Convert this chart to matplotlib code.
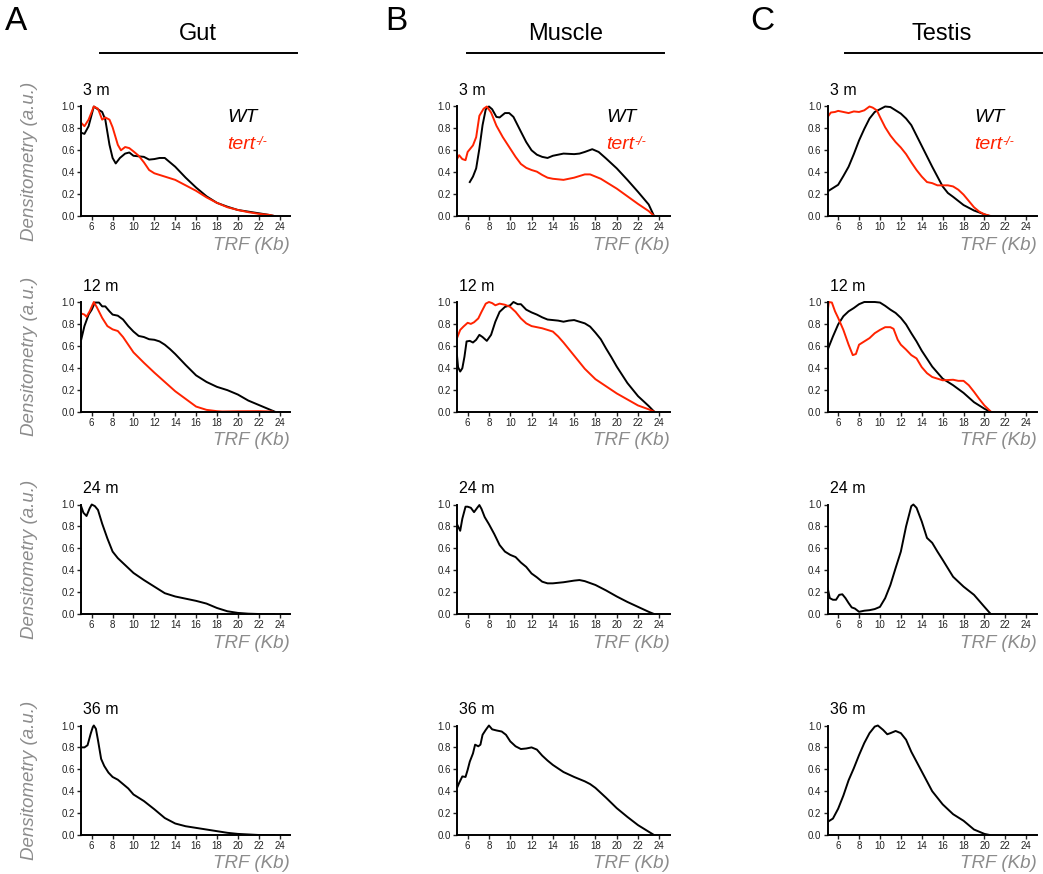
import numpy as np
import matplotlib.pyplot as plt
from matplotlib.lines import Line2D

plt.rcParams['font.family'] = ['Liberation Sans', 'DejaVu Sans']

RED = '#ff2200'
GREY = '#8c8c8c'

tissues = ['Gut', 'Muscle', 'Testis']
panel_letters = ['A', 'B', 'C']
ages = ['3 m', '12 m', '24 m', '36 m']
xticks = [6, 8, 10, 12, 14, 16, 18, 20, 22, 24]
yticks = [0.0, 0.2, 0.4, 0.6, 0.8, 1.0]

# ---- Gut ----
gut_3m_wt_x = [5, 5.3, 5.7, 6.2, 6.5, 7.0, 7.3, 7.7, 8.0, 8.3, 8.7, 9.2, 9.6, 10, 11, 11.5, 12, 12.5, 13, 13.5, 14, 15, 16, 17, 18, 19, 20, 21, 22, 23, 23.5]
gut_3m_wt_y = [0.76, 0.75, 0.82, 1.0, 0.98, 0.95, 0.88, 0.65, 0.53, 0.48, 0.53, 0.57, 0.58, 0.55, 0.54, 0.515, 0.52, 0.53, 0.53, 0.49, 0.45, 0.35, 0.26, 0.18, 0.12, 0.085, 0.055, 0.04, 0.025, 0.01, 0.0]
gut_3m_ko_x = [5, 5.3, 5.7, 6.2, 6.6, 7.0, 7.3, 7.7, 8.0, 8.5, 8.8, 9.2, 9.6, 10, 10.5, 11, 11.5, 12, 13, 14, 15, 16, 17, 18, 19, 20, 21, 22, 23, 23.5]
gut_3m_ko_y = [0.85, 0.82, 0.88, 1.0, 0.98, 0.88, 0.9, 0.88, 0.81, 0.65, 0.6, 0.63, 0.62, 0.59, 0.55, 0.49, 0.42, 0.39, 0.36, 0.33, 0.28, 0.23, 0.17, 0.12, 0.08, 0.055, 0.035, 0.02, 0.01, 0.0]

gut_12m_wt_x = [5, 5.3, 5.7, 6.0, 6.3, 6.7, 7.0, 7.3, 7.7, 8.0, 8.5, 9.0, 9.5, 10, 10.5, 11, 11.5, 12, 12.5, 13, 13.5, 14, 15, 16, 17, 18, 19, 20, 21, 22, 23, 23.5]
gut_12m_wt_y = [0.66, 0.78, 0.885, 0.93, 0.995, 0.995, 0.96, 0.96, 0.915, 0.885, 0.875, 0.84, 0.78, 0.73, 0.69, 0.68, 0.66, 0.655, 0.64, 0.61, 0.57, 0.525, 0.425, 0.33, 0.27, 0.225, 0.195, 0.155, 0.10, 0.06, 0.02, 0.0]
gut_12m_ko_x = [5, 5.3, 5.5, 5.8, 6.2, 6.5, 7.0, 7.5, 8.0, 8.5, 9.0, 9.5, 10, 11, 12, 13, 14, 15, 16, 17, 18, 18.5, 20, 22, 23.3]
gut_12m_ko_y = [0.895, 0.885, 0.865, 0.915, 1.0, 0.95, 0.855, 0.78, 0.75, 0.735, 0.68, 0.61, 0.54, 0.445, 0.355, 0.27, 0.185, 0.115, 0.045, 0.015, 0.003, 0.0, 0.002, 0.003, 0.0]

gut_24m_x = [5, 5.2, 5.5, 5.8, 6.0, 6.3, 6.6, 7.0, 7.5, 8.0, 8.5, 9.0, 9.5, 10, 11, 12, 13, 14, 15, 16, 17, 18, 19, 20, 21, 22, 23.5]
gut_24m_y = [0.98, 0.925, 0.895, 0.965, 1.0, 0.985, 0.95, 0.825, 0.69, 0.57, 0.51, 0.465, 0.42, 0.375, 0.31, 0.25, 0.19, 0.16, 0.14, 0.12, 0.095, 0.055, 0.025, 0.01, 0.003, 0.0, 0.0]

gut_36m_x = [5, 5.3, 5.6, 5.9, 6.1, 6.2, 6.4, 6.6, 6.9, 7.2, 7.6, 8.0, 8.5, 9.0, 9.5, 10, 11, 12, 13, 14, 15, 16, 17, 18, 19, 20, 21, 22, 23.5]
gut_36m_y = [0.8, 0.8, 0.82, 0.925, 0.985, 1.0, 0.97, 0.865, 0.695, 0.63, 0.57, 0.53, 0.505, 0.465, 0.425, 0.37, 0.31, 0.235, 0.155, 0.105, 0.08, 0.065, 0.05, 0.035, 0.02, 0.01, 0.005, 0.0, 0.0]

# ---- Muscle ----
mus_3m_wt_x = [6.2, 6.5, 6.8, 7.1, 7.4, 7.7, 8.0, 8.3, 8.7, 9.0, 9.5, 9.9, 10.3, 11, 11.5, 12, 12.5, 13, 13.5, 14, 15, 16, 16.5, 17, 17.7, 18.3, 19, 20, 21, 22, 23, 23.5]
mus_3m_wt_y = [0.31, 0.36, 0.435, 0.615, 0.83, 0.975, 1.0, 0.975, 0.905, 0.9, 0.94, 0.94, 0.905, 0.77, 0.675, 0.6, 0.56, 0.54, 0.53, 0.55, 0.57, 0.565, 0.57, 0.585, 0.61, 0.585, 0.525, 0.435, 0.33, 0.22, 0.105, 0.0]
mus_3m_ko_x = [5, 5.2, 5.5, 5.8, 6.0, 6.5, 6.8, 7.1, 7.5, 7.8, 8.2, 8.7, 9.3, 10, 10.5, 11, 11.5, 12, 12.5, 13, 13.5, 14, 15, 16, 17, 17.5, 18, 18.5, 19, 20, 21, 22, 23, 23.5]
mus_3m_ko_y = [0.52, 0.555, 0.52, 0.51, 0.585, 0.645, 0.72, 0.915, 0.98, 1.0, 0.945, 0.825, 0.72, 0.615, 0.54, 0.475, 0.44, 0.42, 0.405, 0.375, 0.35, 0.34, 0.33, 0.35, 0.38, 0.38, 0.36, 0.34, 0.31, 0.25, 0.18, 0.11, 0.045, 0.0]

mus_12m_wt_x = [5, 5.1, 5.3, 5.5, 5.7, 5.9, 6.2, 6.5, 6.8, 7.1, 7.4, 7.8, 8.2, 8.6, 9.0, 9.5, 10, 10.3, 10.7, 11, 11.5, 12, 12.5, 13, 13.5, 14, 14.5, 15, 15.5, 16, 16.5, 17, 17.5, 18, 18.5, 19, 19.5, 20, 21, 22, 23, 23.5]
mus_12m_wt_y = [0.51, 0.405, 0.365, 0.395, 0.5, 0.64, 0.645, 0.63, 0.655, 0.7, 0.68, 0.645, 0.7, 0.82, 0.91, 0.955, 0.97, 1.0, 0.98, 0.98, 0.93, 0.905, 0.885, 0.86, 0.84, 0.835, 0.83, 0.82, 0.83, 0.835, 0.82, 0.805, 0.775, 0.72, 0.66, 0.575, 0.495, 0.41, 0.26, 0.14, 0.05, 0.0]
mus_12m_ko_x = [5, 5.3, 5.6, 6.0, 6.3, 6.6, 7.0, 7.3, 7.7, 8.0, 8.3, 8.6, 9.0, 9.5, 10, 10.5, 11, 11.5, 12, 13, 14, 14.5, 15, 16, 17, 18, 19, 20, 21, 22, 23, 23.5]
mus_12m_ko_y = [0.67, 0.745, 0.775, 0.81, 0.8, 0.815, 0.85, 0.91, 0.985, 1.0, 0.99, 0.97, 0.985, 0.975, 0.955, 0.91, 0.85, 0.805, 0.78, 0.76, 0.73, 0.685, 0.63, 0.51, 0.39, 0.295, 0.23, 0.165, 0.11, 0.055, 0.02, 0.0]

mus_24m_x = [5, 5.3, 5.5, 5.8, 6.0, 6.3, 6.6, 6.9, 7.1, 7.3, 7.6, 8.0, 8.5, 9.0, 9.5, 10, 10.5, 11, 11.5, 12, 12.5, 13, 13.5, 14, 15, 16, 16.5, 17, 18, 19, 20, 21, 22, 23, 23.5]
mus_24m_y = [0.82, 0.76, 0.87, 0.98, 0.98, 0.97, 0.93, 0.97, 0.995, 0.96, 0.885, 0.82, 0.73, 0.63, 0.57, 0.54, 0.52, 0.47, 0.43, 0.37, 0.335, 0.295, 0.28, 0.28, 0.29, 0.305, 0.31, 0.3, 0.265, 0.215, 0.16, 0.11, 0.065, 0.02, 0.0]

mus_36m_x = [5, 5.2, 5.5, 5.8, 6.0, 6.2, 6.5, 6.7, 7.0, 7.2, 7.4, 7.7, 8.0, 8.3, 8.7, 9.2, 9.6, 10, 10.5, 11, 11.5, 12, 12.5, 13, 13.5, 14, 15, 16, 17, 17.5, 18, 19, 20, 21, 22, 23, 23.5]
mus_36m_y = [0.43, 0.475, 0.535, 0.53, 0.595, 0.67, 0.745, 0.825, 0.81, 0.825, 0.915, 0.96, 1.0, 0.965, 0.955, 0.945, 0.915, 0.855, 0.81, 0.785, 0.79, 0.8, 0.78, 0.725, 0.68, 0.64, 0.575, 0.53, 0.49, 0.465, 0.43, 0.34, 0.245, 0.165, 0.09, 0.03, 0.0]

# ---- Testis ----
tes_3m_wt_x = [5, 5.5, 6, 6.5, 7, 7.5, 8, 8.5, 9, 9.5, 10, 10.5, 11, 11.5, 12, 12.5, 13, 13.5, 14, 15, 16, 16.5, 17, 18, 19, 20, 20.5]
tes_3m_wt_y = [0.225, 0.255, 0.285, 0.365, 0.45, 0.565, 0.69, 0.795, 0.89, 0.95, 0.975, 1.0, 0.995, 0.965, 0.935, 0.89, 0.83, 0.735, 0.64, 0.45, 0.27, 0.21, 0.175, 0.1, 0.05, 0.015, 0.0]
tes_3m_ko_x = [5, 5.3, 5.7, 6, 6.5, 7, 7.5, 8, 8.5, 9, 9.3, 9.7, 10, 10.5, 11, 11.5, 12, 12.5, 13, 13.5, 14, 14.5, 15, 15.5, 16, 16.5, 17, 17.5, 18, 19, 19.5, 20, 20.6]
tes_3m_ko_y = [0.905, 0.945, 0.95, 0.96, 0.95, 0.94, 0.955, 0.95, 0.965, 1.0, 0.99, 0.965, 0.905, 0.81, 0.735, 0.675, 0.625, 0.565, 0.49, 0.42, 0.36, 0.31, 0.3, 0.28, 0.28, 0.28, 0.27, 0.24, 0.195, 0.08, 0.04, 0.015, 0.0]

tes_12m_wt_x = [5, 5.5, 6, 6.5, 7, 7.5, 8, 8.5, 9, 9.5, 10, 10.5, 11, 11.5, 12, 12.5, 13, 13.5, 14, 15, 16, 17, 18, 19, 20, 20.5]
tes_12m_wt_y = [0.565, 0.685, 0.795, 0.87, 0.915, 0.945, 0.98, 1.0, 1.0, 1.0, 0.995, 0.965, 0.93, 0.9, 0.855, 0.795, 0.715, 0.64, 0.555, 0.41, 0.3, 0.24, 0.17, 0.085, 0.025, 0.0]
tes_12m_ko_x = [5, 5.1, 5.4, 5.7, 6, 6.5, 7, 7.4, 7.7, 8, 8.5, 9, 9.5, 10, 10.5, 11, 11.3, 11.7, 12, 12.5, 13, 13.5, 14, 14.5, 15, 16, 17, 17.5, 18, 18.5, 19, 19.5, 20, 20.6]
tes_12m_ko_y = [0.915, 1.0, 0.995, 0.915, 0.855, 0.745, 0.61, 0.515, 0.525, 0.61, 0.64, 0.67, 0.715, 0.745, 0.77, 0.77, 0.755, 0.655, 0.61, 0.565, 0.515, 0.485, 0.405, 0.35, 0.315, 0.285, 0.29, 0.28, 0.28, 0.24, 0.18, 0.115, 0.055, 0.0]

tes_24m_x = [5, 5.2, 5.5, 5.8, 6.1, 6.4, 6.7, 7, 7.3, 7.6, 8, 8.5, 9, 9.5, 10, 10.5, 11, 11.5, 12, 12.5, 13, 13.2, 13.5, 14, 14.5, 15, 15.5, 16, 17, 18, 19, 20, 20.6]
tes_24m_y = [0.235, 0.145, 0.13, 0.13, 0.175, 0.18, 0.145, 0.1, 0.06, 0.05, 0.02, 0.03, 0.035, 0.045, 0.065, 0.145, 0.265, 0.42, 0.57, 0.8, 0.985, 1.0, 0.97, 0.845, 0.695, 0.65, 0.57, 0.495, 0.34, 0.25, 0.175, 0.065, 0.0]

tes_36m_x = [5, 5.5, 6, 6.5, 7, 7.5, 8, 8.5, 9, 9.5, 9.8, 10.3, 10.7, 11, 11.5, 12, 12.5, 13, 14, 15, 16, 17, 18, 19, 20, 20.5]
tes_36m_y = [0.12, 0.15, 0.24, 0.36, 0.5, 0.61, 0.73, 0.84, 0.93, 0.99, 1.0, 0.96, 0.92, 0.93, 0.95, 0.93, 0.87, 0.76, 0.58, 0.4, 0.28, 0.19, 0.13, 0.05, 0.01, 0.0]

# curves per [row][col]: list of (x, y, colour)
curves = [
    [[(gut_3m_wt_x, gut_3m_wt_y, 'k'), (gut_3m_ko_x, gut_3m_ko_y, RED)],
     [(mus_3m_wt_x, mus_3m_wt_y, 'k'), (mus_3m_ko_x, mus_3m_ko_y, RED)],
     [(tes_3m_wt_x, tes_3m_wt_y, 'k'), (tes_3m_ko_x, tes_3m_ko_y, RED)]],
    [[(gut_12m_wt_x, gut_12m_wt_y, 'k'), (gut_12m_ko_x, gut_12m_ko_y, RED)],
     [(mus_12m_wt_x, mus_12m_wt_y, 'k'), (mus_12m_ko_x, mus_12m_ko_y, RED)],
     [(tes_12m_wt_x, tes_12m_wt_y, 'k'), (tes_12m_ko_x, tes_12m_ko_y, RED)]],
    [[(gut_24m_x, gut_24m_y, 'k')], [(mus_24m_x, mus_24m_y, 'k')], [(tes_24m_x, tes_24m_y, 'k')]],
    [[(gut_36m_x, gut_36m_y, 'k')], [(mus_36m_x, mus_36m_y, 'k')], [(tes_36m_x, tes_36m_y, 'k')]],
]

W, H = 1043, 874
fig = plt.figure(figsize=(W / 100, H / 100), dpi=100)

col_left = [81.3, 457, 827.7]     # px where x=5
col_width = [208.7, 213, 209]     # px for 5..25
row_zero = [216, 411.5, 614, 835] # px where y=0
unit_h = 109.5                    # px for y 0..1
ytop = 1.02

for r in range(4):
    for c in range(3):
        hpx = unit_h * ytop
        ax = fig.add_axes([col_left[c] / W, 1 - row_zero[r] / H, col_width[c] / W, hpx / H])
        for x, y, col in curves[r][c]:
            ax.plot(x, y, color=col, lw=1.4, solid_joinstyle='round')
        ax.set_xlim(5, 25)
        ax.set_ylim(0, ytop)
        ax.set_xticks(xticks)
        ax.set_yticks(yticks)
        ax.set_yticklabels(['%.1f' % v for v in yticks])
        for s in ['top', 'right']:
            ax.spines[s].set_visible(False)
        for s in ['left', 'bottom']:
            ax.spines[s].set_linewidth(1.4)
        ax.spines['left'].set_bounds(0, 1.0)
        ax.tick_params(length=3, width=1, labelsize=7, pad=1.5, colors='#222222')
        ax.text(0.01, 1.0 + 9 / hpx, ages[r], transform=ax.transAxes, fontsize=11.5, va='baseline', ha='left')
        ax.text(1.0, -29 / hpx, 'TRF (Kb)', transform=ax.transAxes, fontsize=13.5, style='italic',
                color=GREY, ha='right', va='center')
        if r == 0:
            ax.text(0.70, 0.88, 'WT', transform=ax.transAxes, fontsize=14, style='italic', va='center')
            t = ax.text(0.70, 0.64, 'tert', transform=ax.transAxes, fontsize=14, style='italic',
                        color=RED, va='center')
            ax.annotate('-/-', xy=(1.0, 1.0), xycoords=t, fontsize=9, style='italic', color=RED,
                        ha='left', va='top')
        if c == 0:
            ycen = 1 - (row_zero[r] - unit_h / 2) / H
            fig.text(30 / W, ycen, 'Densitometry (a.u.)', rotation=90, fontsize=13.5, style='italic',
                     color=GREY, ha='center', va='center')

# panel letters, column titles and underlines
letter_x = [5, 385, 750]
title_cx = [198, 566, 942]
line_x = [(100, 297), (467, 664), (845, 1042)]
for i in range(3):
    fig.text(letter_x[i] / W, 1 - 22 / H, panel_letters[i], fontsize=24, ha='left', va='center')
    fig.text(title_cx[i] / W, 1 - 34 / H, tissues[i], fontsize=17, ha='center', va='center')
    fig.add_artist(Line2D([line_x[i][0] / W, line_x[i][1] / W], [1 - 53 / H, 1 - 53 / H],
                          color='k', lw=1.4, transform=fig.transFigure))

fig.savefig('out.png', dpi=100)
